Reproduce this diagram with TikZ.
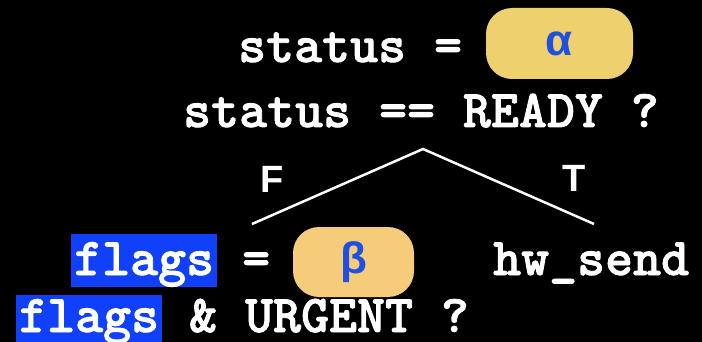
\documentclass[tikz,border=0pt]{standalone}
\usepackage{fontspec}
\setsansfont{Liberation Sans}
\newfontfamily\codefont{lmmonolt10-bold.otf}[FakeBold=1.5]
\usepackage{xcolor}
\usepackage{tikz}
\usetikzlibrary{positioning}

\definecolor{hlblue}{RGB}{16,64,250}
\definecolor{greekblue}{RGB}{32,80,224}
\definecolor{alphafill}{RGB}{238,208,110}
\definecolor{betafill}{RGB}{246,204,122}

\begin{document}
\begin{tikzpicture}[
  x=1pt, y=-1pt,
  code/.style={inner sep=0pt, anchor=base west, text=white, font=\fontsize{53.3}{56}\selectfont\codefont},
  hilite/.style={code, fill=hlblue, inner xsep=3pt},
  hole/.style={rectangle, rounded corners=26pt, inner sep=0pt, text=greekblue, font=\fontsize{44}{48}\selectfont\sffamily\bfseries},
  branch/.style={text=white, inner sep=0pt, font=\fontsize{38}{42}\selectfont\sffamily\bfseries},
  edge/.style={white, line width=2.5pt}
]

% Background
\fill[black] (0,0) rectangle (702,342);
\useasboundingbox (0,0) rectangle (702,342);

% Assignment and test
\node[code] (assign) at (238,62) {status =};
\node[hole, fill=alphafill, minimum width=147pt, minimum height=71pt] (alpha) at (559.5,43.5) {α};
\node[code] (test) at (183,127) {status == READY ?};

% Branches
\coordinate (apex) at (423,149);
\coordinate (leftend) at (252,224);
\coordinate (rightend) at (594,224);
\node[branch] (false) at (272,179) {F};
\node[branch] (true) at (574,178) {T};

% False branch
\node[hilite, text height=41pt, text depth=12pt] (flagsA) at (71,275) {flags};
\node[code] (eq) at (242,275) {=};
\node[hole, fill=betafill, minimum width=121pt, minimum height=70pt] (beta) at (353.5,262) {β};
\node[hilite, text height=37pt, text depth=10pt] (flagsB) at (16,332) {flags};
\node[code, text depth=0pt] (urgent) at (189,332) {\& URGENT ?};

% True branch
\node[code] (send) at (493,275) {hw\_send};

% Lines
\draw[edge] (leftend) -- (apex) -- (rightend);

\end{tikzpicture}
\end{document}
